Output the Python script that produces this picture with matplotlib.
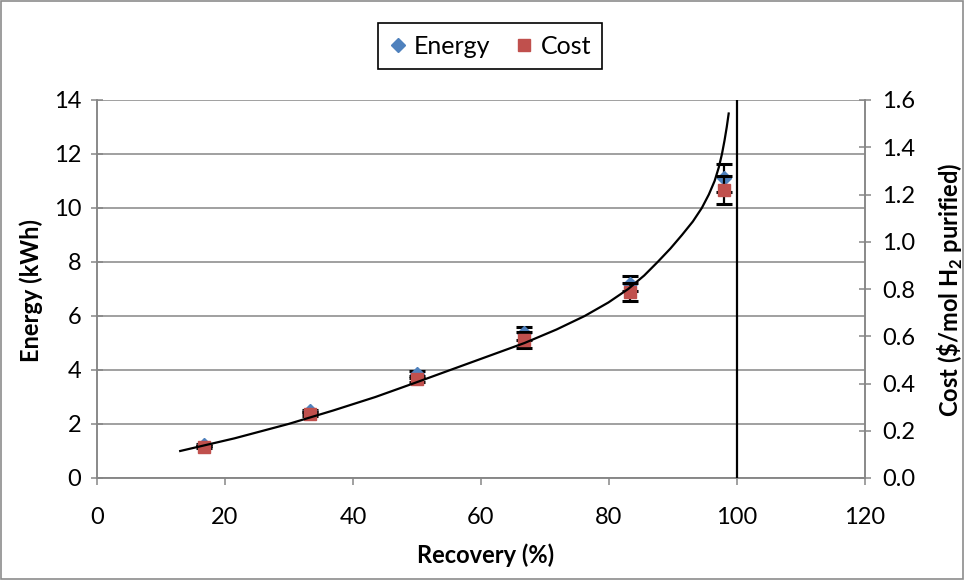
import matplotlib
matplotlib.use("Agg")
import matplotlib.pyplot as plt
from matplotlib.patches import Rectangle

plt.rcParams['font.family'] = ['Lato', 'DejaVu Sans']
plt.rcParams['mathtext.fontset'] = 'custom'
plt.rcParams['mathtext.rm'] = 'Lato'
plt.rcParams['mathtext.bf'] = 'Lato:bold'

# Measured points
recovery = [16.7, 33.3, 50.0, 66.7, 83.3, 98.0]
energy = [1.22, 2.47, 3.84, 5.36, 7.19, 11.12]
energy_err = [0.05, 0.06, 0.12, 0.24, 0.28, 0.51]
cost = [0.131, 0.271, 0.420, 0.584, 0.786, 1.218]
cost_err = [0.005, 0.008, 0.012, 0.032, 0.038, 0.060]

# Model curve (recovery %, energy kWh)
curve_recovery = [13.0, 21.5, 29.9, 36.9, 43.5, 49.4, 55.2, 61.0, 66.8, 71.8,
                  76.2, 79.9, 83.0, 85.5, 87.6, 89.6, 91.4, 93.1, 94.5, 95.6,
                  96.5, 97.15, 97.65, 98.05, 98.4, 98.7]
curve_energy = [1.0, 1.47, 2.0, 2.5, 3.0, 3.5, 4.0, 4.5, 5.0, 5.5,
                6.0, 6.5, 7.0, 7.5, 8.0, 8.5, 9.0, 9.5, 10.0, 10.5,
                11.0, 11.5, 12.0, 12.5, 13.0, 13.5]

limit_recovery = 100

x_ticks = [0, 20, 40, 60, 80, 100, 120]
energy_ticks = [0, 2, 4, 6, 8, 10, 12, 14]
cost_ticks = [0.0, 0.2, 0.4, 0.6, 0.8, 1.0, 1.2, 1.4, 1.6]

BLUE = '#4F81BD'
RED = '#C0504D'
GRID = '#868686'
TICK_FS = 17
LABEL_FS = 17

fig = plt.figure(figsize=(9.64, 5.80), dpi=100)
fig.patches.append(Rectangle((0.0015, 0.002), 0.997, 0.996, transform=fig.transFigure,
                             fill=False, edgecolor='#8c8c8c', linewidth=1.2))

ax = fig.add_axes([97 / 964, 1 - 478 / 580, 768 / 964, 378 / 580])
ax2 = ax.twinx()

ax.set_xlim(0, 120)
ax.set_ylim(0, 14)
ax2.set_ylim(0, 1.6)
ax.set_xticks(x_ticks)
ax.set_yticks(energy_ticks)
ax2.set_yticks(cost_ticks)
ax2.set_yticklabels([f"{v:.1f}" for v in cost_ticks])

ax.grid(axis='y', color=GRID, linewidth=1.1)
ax.set_axisbelow(True)

for a in (ax, ax2):
    a.spines['top'].set_visible(False)
    for s in ('left', 'right', 'bottom'):
        a.spines[s].set_color(GRID)
        a.spines[s].set_linewidth(1.1)
ax.tick_params(axis='y', direction='inout', length=9, width=1.1, color=GRID,
               labelsize=TICK_FS, pad=7)
ax.tick_params(axis='x', direction='out', length=5, width=1.1, color=GRID,
               labelsize=TICK_FS, pad=16)
ax2.tick_params(axis='y', direction='inout', length=9, width=1.1, color=GRID,
                labelsize=TICK_FS, pad=8)

# Energy series
ax.errorbar(recovery, energy, yerr=energy_err, fmt='none', ecolor='black',
            elinewidth=1.6, capsize=6, capthick=2.2, zorder=3)
h_energy, = ax.plot(recovery, energy, linestyle='none', marker='D', markersize=7.5,
                    color=BLUE, zorder=4, label='Energy')

# Cost series
ax2.errorbar(recovery, cost, yerr=cost_err, fmt='none', ecolor='black',
             elinewidth=1.6, capsize=6, capthick=2.2, zorder=3)
h_cost, = ax2.plot(recovery, cost, linestyle='none', marker='s', markersize=9,
                   color=RED, zorder=4, label='Cost')

# Model curve and recovery limit, drawn above the markers
ax2.plot(curve_recovery, curve_energy, color='black', linewidth=1.6,
         transform=ax.transData, zorder=5)
ax2.plot([limit_recovery, limit_recovery], [0, 14], color='black', linewidth=1.6,
         transform=ax.transData, zorder=5)

fig.text(486 / 964, 1 - 555 / 580, 'Recovery (%)', fontsize=LABEL_FS,
         fontweight='bold', ha='center', va='center')
fig.text(31 / 964, 1 - 290 / 580, 'Energy (kWh)', fontsize=LABEL_FS,
         fontweight='bold', ha='center', va='center', rotation=90)
fig.text(950 / 964, 1 - 290 / 580, r'Cost (\$/mol H$_\mathbf{2}$ purified)',
         fontsize=LABEL_FS, fontweight='bold', ha='center', va='center', rotation=90)

leg = fig.legend(handles=[h_energy, h_cost], loc='center',
                 bbox_to_anchor=(490 / 964, 1 - 46 / 580), ncol=2, fontsize=18,
                 frameon=True, fancybox=False, edgecolor='black', framealpha=1,
                 handlelength=0.7, handletextpad=0.3, columnspacing=1.0,
                 borderpad=0.45, markerscale=1.0)
leg.get_frame().set_linewidth(1.2)

fig.savefig('out.png', dpi=100)
